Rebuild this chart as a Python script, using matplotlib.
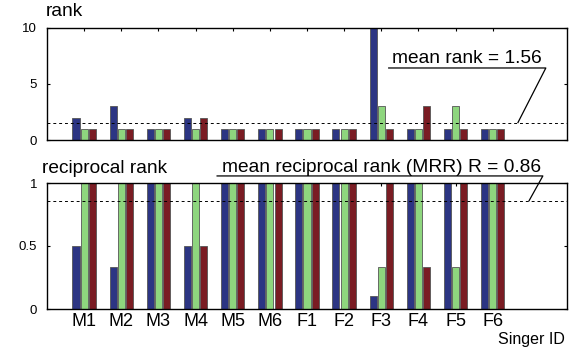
import numpy as np
import matplotlib
matplotlib.use("Agg")
import matplotlib.pyplot as plt

plt.rcParams['font.family'] = ['Liberation Sans', 'DejaVu Sans']

singers = ['M1', 'M2', 'M3', 'M4', 'M5', 'M6', 'F1', 'F2', 'F3', 'F4', 'F5', 'F6']

# rank of the correct singer, three systems per singer
rank_blue = [2, 3, 1, 2, 1, 1, 1, 1, 10, 1, 1, 1]
rank_green = [1, 1, 1, 1, 1, 1, 1, 1, 3, 1, 3, 1]
rank_red = [1, 1, 1, 2, 1, 1, 1, 1, 1, 3, 1, 1]

mean_rank = 1.56
mean_rr = 0.86

colors = ['#2c3583', '#8ed67e', '#7a1c23']
offsets = [-0.22, 0.0, 0.22]
width = 0.19

x = np.arange(1, len(singers) + 1)
ranks = [rank_blue, rank_green, rank_red]
recips = [[1.0 / v for v in r] for r in ranks]

fig = plt.figure(figsize=(5.79, 3.51), dpi=100)
ax1 = fig.add_axes([47 / 579, 1 - 140 / 351, 520 / 579, 112 / 351])
ax2 = fig.add_axes([47 / 579, 1 - 309 / 351, 520 / 579, 126 / 351])


def style(ax):
    ax.set_xlim(0, 14)
    ax.set_xticks(x)
    ax.tick_params(axis='x', which='both', direction='in', top=True, bottom=False,
                   length=2.5, width=0.8, pad=3, labelsize=13)
    ax.tick_params(axis='y', direction='in', left=True, right=True,
                   length=2.5, width=0.8, pad=7, labelsize=9.5)
    for s in ax.spines.values():
        s.set_linewidth(1.0)
    ax.set_axisbelow(True)


for vals, off, c in zip(ranks, offsets, colors):
    ax1.bar(x + off, vals, width, color=c, edgecolor='#555555', linewidth=0.6)
style(ax1)
ax1.set_ylim(0, 10)
ax1.set_yticks([0, 5, 10])
ax1.set_xticklabels([])
ax1.axhline(mean_rank, color='black', linestyle=(0, (3, 3)), linewidth=0.7)
ax1.plot([9.2, 13.43, 12.68], [6.43, 6.43, mean_rank], color='black', linewidth=0.9,
         clip_on=False)
ax1.text(9.29, 6.43 + 0.45, 'mean rank = %.2f' % mean_rank, fontsize=13.8,
         va='baseline', ha='left')

for vals, off, c in zip(recips, offsets, colors):
    ax2.bar(x + off, vals, width, color=c, edgecolor='#555555', linewidth=0.6)
style(ax2)
ax2.set_ylim(0, 1)
ax2.set_yticks([0, 0.5, 1])
ax2.set_yticklabels(['0', '0.5', '1'])
ax2.set_xticklabels(singers)
ax2.axhline(mean_rr, color='black', linestyle=(0, (3, 3)), linewidth=0.7)
ax2.plot([4.58, 13.35, 12.98], [1.056, 1.056, mean_rr], color='black', linewidth=0.9,
         clip_on=False)
ax2.text(4.71, 1.056 + 0.035, 'mean reciprocal rank (MRR) R = %.2f' % mean_rr,
         fontsize=13.8, va='baseline', ha='left')

fig.text(46 / 579, 1 - 16 / 351, 'rank', fontsize=13.8, va='baseline', ha='left')
fig.text(42 / 579, 1 - 173 / 351, 'reciprocal rank', fontsize=13.8, va='baseline', ha='left')
fig.text(565 / 579, 1 - 344 / 351, 'Singer ID', fontsize=11.5, va='baseline', ha='right')

fig.savefig('out.png', dpi=100)
